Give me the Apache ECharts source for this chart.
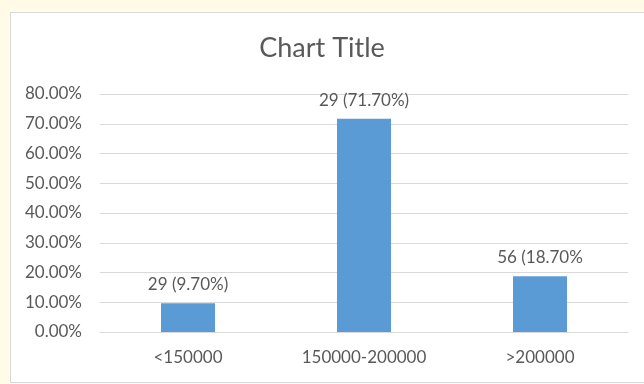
<!DOCTYPE html>
<html>
<head>
<meta charset="utf-8">
<script src="https://cdn.jsdelivr.net/npm/echarts@6/dist/echarts.min.js"></script>
<style>
    html, body { margin: 0; padding: 0; background: #fffbe6; }
    #box {
        position: absolute; left: 10px; top: 12px; width: 640px; height: 369px;
        background: #fff; border: 1px solid #d9d9d9;
    }
    #main { position: absolute; left: 0; top: 0; width: 644px; height: 384px; }
</style>
</head>
<body>
<div id="box"></div>
<div id="main"></div>
<script>
    var categories = ['<150000', '150000-200000', '>200000'];
    var percents = [9.7, 71.7, 18.7];
    // 标签文字照原图（第三个少了右括号）
    var labels = ['29 (9.70%)', '29 (71.70%)', '56 (18.70%'];
    var yTicks = [0, 10, 20, 30, 40, 50, 60, 70, 80];

    var myChart = echarts.init(document.getElementById('main'));
    var font = 'Lato, "Open Sans", sans-serif';
    myChart.setOption({
        title: {
            text: 'Chart Title',
            left: 'center',
            top: 30,
            textStyle: { fontFamily: font, fontSize: 27, fontWeight: 'normal', color: '#595959' }
        },
        grid: { left: 100, right: 16, top: 94, bottom: 52 },
        xAxis: {
            type: 'category',
            data: categories,
            axisLine: { lineStyle: { color: '#d9d9d9' } },
            axisTick: { show: false },
            axisLabel: { fontFamily: font, fontSize: 17, color: '#595959', margin: 17 }
        },
        yAxis: {
            type: 'value',
            min: yTicks[0],
            max: yTicks[yTicks.length - 1],
            interval: 10,
            axisLine: { show: false },
            axisTick: { show: false },
            splitLine: { lineStyle: { color: '#d9d9d9' } },
            axisLabel: {
                fontFamily: font, fontSize: 17, color: '#595959', margin: 18,
                formatter: function (v) { return v.toFixed(2) + '%'; }
            }
        },
        series: [{
            type: 'bar',
            data: percents,
            barWidth: 54,
            itemStyle: { color: '#5b9bd5' },
            label: {
                show: true,
                position: 'top',
                distance: 10,
                fontFamily: font, fontSize: 17, color: '#595959',
                formatter: function (p) { return labels[p.dataIndex]; }
            }
        }]
    });
</script>
</body>
</html>
